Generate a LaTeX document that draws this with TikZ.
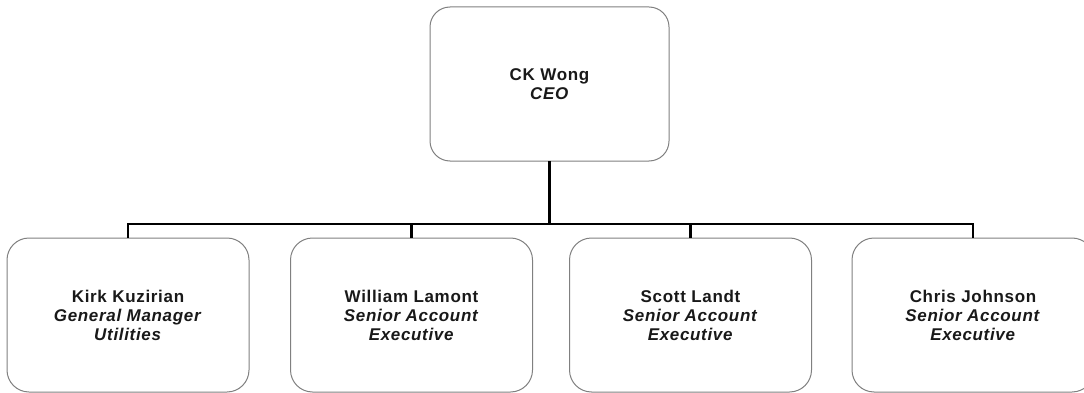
\documentclass[tikz,border=0pt]{standalone}
\usepackage{fontspec}
\setmainfont{Liberation Sans}[LetterSpace=4.0]
\begin{document}
\begin{tikzpicture}[x=1pt,y=-1pt,
  person/.style={draw=black!50, line width=1pt, rounded corners=22pt,
    fill=white, minimum width=242pt, minimum height=154pt,
    inner sep=0pt, outer sep=0pt, align=center,
    font=\fontsize{17}{19}\selectfont\bfseries, text=black!90},
  chief/.style={person, minimum width=239pt, rounded corners=20pt},
  link/.style={draw=black, line width=2.8pt, line join=miter}]
\useasboundingbox (0,0) rectangle (1084,393);
\begin{scope}
\clip (0,0) rectangle (1084,393);
% top of the chart
\node[chief] (ceo) at (549.5,84) {CK Wong\\\textit{CEO}};
% direct reports
\node[person] (kk) at (128,315) {Kirk Kuzirian\\\textit{General Manager}\\\textit{Utilities}};
\node[person] (wl) at (411.5,315) {William Lamont\\\textit{Senior Account}\\\textit{Executive}};
\node[person] (sl) at (690.5,315) {Scott Landt\\\textit{Senior Account}\\\textit{Executive}};
\node[person] (cj) at (973,315) {Chris Johnson\\\textit{Senior Account}\\\textit{Executive}};
% reporting lines via a common bus
\coordinate (bus) at (0,224);
\draw[link] (ceo.south) -- (ceo.south |- bus) -| (kk.north);
\draw[link] (ceo.south |- bus) -| (wl.north);
\draw[link] (ceo.south |- bus) -| (sl.north);
\draw[link] (ceo.south |- bus) -| (cj.north);
\end{scope}
\end{tikzpicture}
\end{document}
